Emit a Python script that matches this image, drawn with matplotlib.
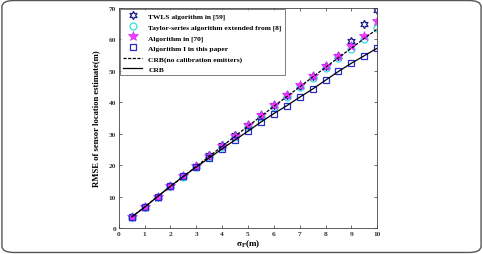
import matplotlib.pyplot as plt
from matplotlib.patches import FancyBboxPatch

sigma_p = [0.5, 1, 1.5, 2, 2.5, 3, 3.5, 4, 4.5, 5, 5.5, 6, 6.5, 7, 7.5, 8, 8.5, 9, 9.5, 10]
twls = [3.5, 6.7, 9.9, 13.3, 16.5, 19.8, 23.1, 26.3, 29.5, 32.7,
        35.9, 39.1, 42.2, 45.3, 48.4, 51.6, 54.7, 59.6, 64.9, 69.2]
taylor = [3.5, 6.7, 10.0, 13.2, 16.3, 19.5, 22.6, 25.9, 29.0, 32.2,
          35.3, 38.5, 41.6, 44.7, 47.8, 50.9, 54.0, 57.0, 60.1, 63.5]
alg70 = [3.5, 6.7, 10.0, 13.3, 16.5, 19.7, 22.9, 26.2, 29.4, 32.7,
         35.9, 39.1, 42.3, 45.4, 48.4, 51.5, 54.6, 57.9, 61.2, 66.0]
alg1 = [3.5, 6.6, 10.0, 13.3, 16.4, 19.4, 22.3, 25.2, 28.0, 30.8,
        33.7, 36.4, 38.9, 41.6, 44.2, 47.0, 49.8, 52.4, 54.8, 57.2]
crb_nocal = [3.5, 6.7, 10.0, 13.2, 16.4, 19.6, 22.8, 26.0, 29.2, 32.4,
             35.5, 38.7, 41.8, 44.9, 48.0, 51.1, 54.2, 57.2, 60.3, 63.3]
crb = [3.5, 6.6, 10.0, 13.3, 16.4, 19.4, 22.3, 25.2, 28.0, 30.8,
       33.7, 36.4, 38.9, 41.6, 44.2, 47.0, 49.8, 52.4, 54.8, 57.2]

plt.rcParams['font.family'] = ['Liberation Serif', 'DejaVu Serif']
plt.rcParams['font.weight'] = 'bold'
plt.rcParams['mathtext.fontset'] = 'stix'

fig = plt.figure(figsize=(4.83, 2.55), dpi=100)
ax = fig.add_axes([0.246, 0.102, 0.535, 0.863])

hexagram = (6, 1, 0)
ax.plot(sigma_p, twls, linestyle='none', marker=hexagram, markersize=6,
        markerfacecolor='none', markeredgecolor='#1c1c8c', markeredgewidth=0.9,
        label='TWLS algorithm in [59]')
ax.plot(sigma_p, taylor, linestyle='none', marker='o', markersize=5,
        markerfacecolor='none', markeredgecolor='#33e0e0', markeredgewidth=0.9,
        label='Taylor-series algorithm extended from [8]')
ax.plot(sigma_p, alg70, linestyle='none', marker='*', markersize=7,
        markerfacecolor='#ff33ff', markeredgecolor='#cc33ff', markeredgewidth=0.5,
        label='Algorithm in [70]')
ax.plot(sigma_p, alg1, linestyle='none', marker='s', markersize=5,
        markerfacecolor='none', markeredgecolor='#2a2ad0', markeredgewidth=0.9,
        label='Algorithm I in this paper')
ax.plot(sigma_p, crb_nocal, color='black', linestyle='--', linewidth=0.9,
        dashes=(2.5, 1.2), label='CRB(no calibration emitters)')
ax.plot(sigma_p, crb, color='black', linestyle='-', linewidth=0.9, label='CRB')

ax.set_xlim(0, 10)
ax.set_ylim(0, 70)
ax.set_xticks(range(0, 11))
ax.set_yticks(range(0, 71, 10))
ax.tick_params(direction='in', top=True, right=True, labelsize=5.3, length=2.5,
               width=0.5, pad=2, colors='#333333', labelcolor='#333333')
for s in ax.spines.values():
    s.set_linewidth(0.6)
    s.set_color('#444444')

ax.set_xlabel(r'$\mathbf{\sigma}_{\mathrm{P}}$(m)', fontsize=6.5, fontweight='bold',
              labelpad=1)
ax.set_ylabel('RMSE of sensor location estimate(m)', fontsize=6.2,
              fontweight='bold', labelpad=6)

leg = ax.legend(loc='upper left', fontsize=5.4, frameon=True, fancybox=False,
                borderaxespad=0.15, handlelength=2.6, handletextpad=0.8,
                labelspacing=0.55, borderpad=0.4, edgecolor='#444444')
leg.get_frame().set_linewidth(0.6)

border = FancyBboxPatch((0.004, 0.006), 0.992, 0.988,
                        boxstyle='round,pad=0,rounding_size=0.025',
                        transform=fig.transFigure, fill=False,
                        edgecolor='#555555', linewidth=1.0)
fig.patches.append(border)

fig.savefig('out.png', dpi=100)
